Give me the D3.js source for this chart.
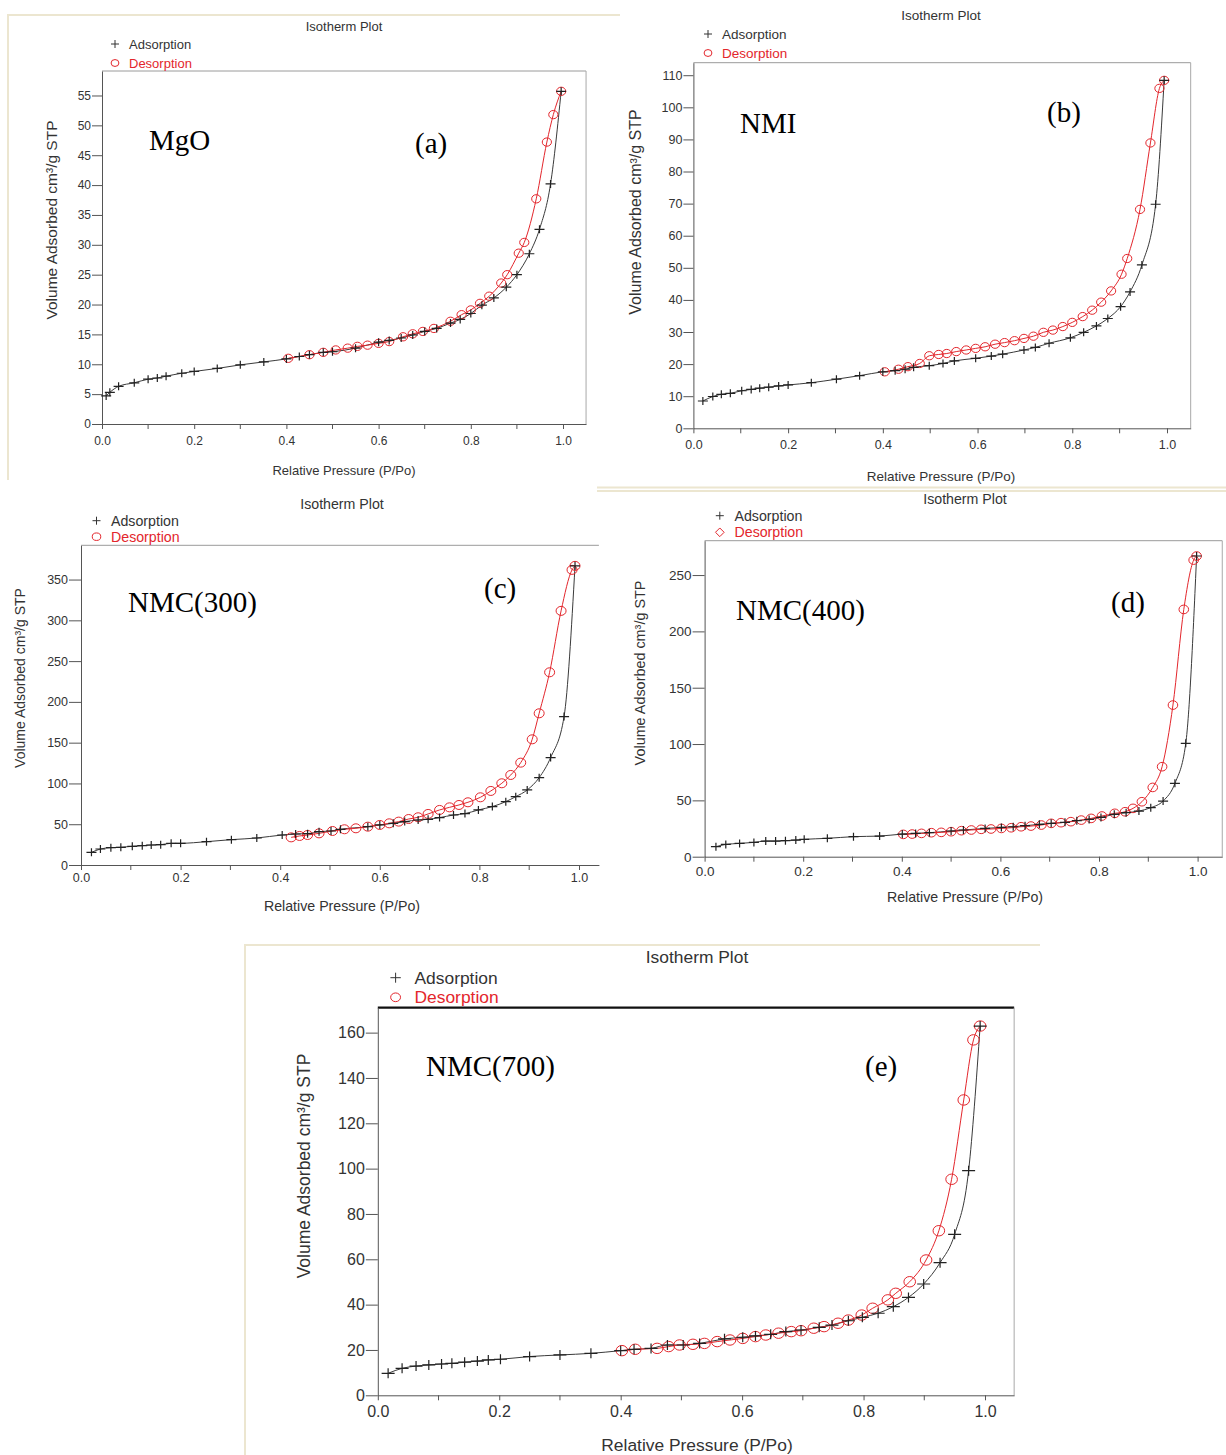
<!DOCTYPE html>
<html>
<head>
<meta charset="utf-8">
<script src="https://cdn.jsdelivr.net/npm/d3@7/dist/d3.min.js"></script>
<style>
  body { margin: 0; background: #fff; }
  svg { display: block; }
</style>
</head>
<body>
<svg id="fig" width="1226" height="1455"></svg>
<script>
// ---------- Nitrogen isotherm data: relative pressure P/Po and volume adsorbed (cm3/g STP) ----------

// (a) MgO
const mgoAdsP = [0.009,0.017,0.036,0.07,0.10,0.12,0.139,0.173,0.20,0.25,0.30,0.351,0.40,0.428,0.45,0.48,0.50,0.55,0.60,0.623,0.649,0.674,0.70,0.726,0.756,0.777,0.80,0.824,0.85,0.877,0.90,0.927,0.949,0.973,0.996];
const mgoAdsV = [4.7,5.3,6.3,6.9,7.5,7.7,8.0,8.5,8.8,9.3,9.9,10.4,10.9,11.3,11.6,12.0,12.1,12.7,13.7,14.0,14.4,14.9,15.5,16.0,16.9,17.5,18.5,19.9,21.1,22.9,25.0,28.5,32.6,40.2,55.7];
const mgoDesP = [0.996,0.979,0.965,0.942,0.916,0.904,0.879,0.866,0.840,0.82,0.80,0.78,0.756,0.72,0.696,0.674,0.653,0.623,0.60,0.576,0.554,0.533,0.507,0.48,0.45,0.404];
const mgoDesV = [55.7,51.8,47.2,37.7,30.4,28.6,25.0,23.6,21.4,20.2,19.1,18.3,17.2,16.0,15.5,15.1,14.6,13.8,13.5,13.2,13.0,12.7,12.4,12.0,11.6,11.0];

// (b) NMI
const nmiAdsP = [0.02,0.041,0.059,0.078,0.102,0.122,0.14,0.159,0.18,0.20,0.249,0.302,0.351,0.40,0.426,0.447,0.465,0.498,0.527,0.551,0.596,0.629,0.653,0.698,0.722,0.751,0.796,0.824,0.851,0.875,0.902,0.922,0.947,0.976,0.994];
const nmiAdsV = [8.5,9.9,10.6,10.9,11.7,12.1,12.5,12.8,13.2,13.5,14.2,15.3,16.4,17.6,17.95,18.4,19.0,19.5,20.2,21.0,21.8,22.5,23.1,24.4,25.2,26.5,28.2,29.9,31.9,34.2,37.9,42.5,50.9,69.8,108.4];
const nmiDesP = [0.994,0.984,0.965,0.943,0.916,0.904,0.882,0.861,0.842,0.822,0.80,0.78,0.759,0.739,0.718,0.698,0.678,0.657,0.637,0.616,0.596,0.576,0.555,0.535,0.518,0.498,0.478,0.453,0.433,0.404];
const nmiDesV = [108.4,105.9,88.9,68.2,52.9,48.0,42.8,39.3,36.8,34.8,33.0,31.7,30.6,29.9,28.7,28.0,27.3,26.7,26.2,25.4,24.9,24.4,23.9,23.3,23.0,22.6,20.2,19.2,18.4,17.6];

// (c) NMC(300)
const nmc300AdsP = [0.021,0.039,0.06,0.08,0.103,0.123,0.141,0.16,0.181,0.20,0.252,0.302,0.353,0.404,0.431,0.455,0.478,0.502,0.521,0.576,0.60,0.627,0.65,0.677,0.697,0.72,0.748,0.771,0.798,0.826,0.853,0.873,0.896,0.92,0.943,0.97,0.992];
const nmc300AdsV = [15.5,19.6,21.3,21.7,22.9,23.7,24.5,24.9,26.6,26.6,28.6,31.1,33.1,36.8,38.0,38.4,40.9,41.7,43.8,47.0,49.1,51.1,53.2,55.2,56.0,58.1,61.3,63.0,67.5,71.6,77.7,83.8,92.0,107.1,131.7,182,366.8];
const nmc300DesP = [0.992,0.986,0.964,0.941,0.92,0.906,0.883,0.863,0.845,0.823,0.802,0.777,0.759,0.74,0.72,0.697,0.677,0.658,0.638,0.619,0.60,0.576,0.552,0.529,0.505,0.478,0.455,0.439,0.422];
const nmc300DesV = [366.8,361.9,311.6,236.3,186,154.1,125.5,110.4,100.2,90.8,83.0,76.9,73.6,70.7,67.5,62.6,58.5,56.4,53.2,51.1,49.1,47.0,45.0,43.8,41.7,38.8,36.8,35.6,33.9];

// (d) NMC(400)
const nmc400AdsP = [0.023,0.043,0.071,0.10,0.124,0.144,0.164,0.185,0.202,0.249,0.302,0.355,0.401,0.428,0.456,0.50,0.525,0.569,0.602,0.626,0.65,0.679,0.703,0.731,0.755,0.78,0.804,0.831,0.855,0.881,0.905,0.93,0.954,0.976,0.998];
const nmc400AdsV = [8.9,10.9,11.8,12.7,13.9,13.9,14.2,14.8,15.4,16.3,17.8,18.3,20.1,20.7,21.3,22.8,23.7,25.1,26.0,26.6,27.5,28.7,29.6,30.5,32.0,33.1,34.9,37.6,39.1,40.5,43.5,49.4,65.1,100.6,266.9];
const nmc400DesP = [0.998,0.992,0.972,0.95,0.928,0.909,0.887,0.869,0.853,0.832,0.806,0.784,0.764,0.743,0.723,0.703,0.683,0.662,0.642,0.622,0.602,0.581,0.561,0.541,0.521,0.50,0.48,0.46,0.44,0.421,0.403];
const nmc400DesV = [266.9,263.3,219.5,134.6,79.9,61.5,48.8,42.9,39.9,38.5,36.1,34.0,32.5,31.1,30.2,29.6,28.1,27.2,26.6,25.7,25.1,24.6,24.3,23.7,23.1,22.2,21.6,21.3,20.7,20.1,19.8];

// (e) NMC(700)
const nmc700AdsP = [0.017,0.04,0.063,0.084,0.105,0.122,0.143,0.164,0.182,0.202,0.25,0.30,0.351,0.40,0.422,0.45,0.477,0.503,0.53,0.571,0.601,0.622,0.647,0.672,0.697,0.727,0.748,0.775,0.798,0.824,0.849,0.874,0.899,0.926,0.95,0.973,0.992];
const nmc700AdsV = [9.7,11.9,12.9,13.4,13.8,14.1,14.6,15.1,15.6,15.9,17.1,17.8,18.5,19.7,20.3,20.7,22.2,22.2,22.9,24.9,25.6,26.2,26.9,28.1,28.8,30.0,31.0,32.9,34.4,36.2,39.1,43.2,49.1,58.5,71.0,99.1,162.9];
const nmc700DesP = [0.992,0.981,0.965,0.945,0.924,0.903,0.876,0.853,0.84,0.815,0.797,0.775,0.758,0.735,0.718,0.697,0.681,0.66,0.639,0.622,0.601,0.58,0.559,0.538,0.519,0.497,0.479,0.46,0.424,0.402];
const nmc700DesV = [162.9,156.8,130.3,95.3,72.6,59.7,50.1,45.0,42.1,38.4,35.4,33.2,31.8,30.3,29.6,28.5,28.1,27.4,26.6,25.9,25.1,24.4,23.7,22.9,22.5,22.2,21.5,20.7,20.3,19.7];

// Axis tick values
const pressureTicks = [0, 0.2, 0.4, 0.6, 0.8, 1.0];
const pressureMinorTicks = [0.1, 0.3, 0.5, 0.7, 0.9];
const mgoTicks = [0, 5, 10, 15, 20, 25, 30, 35, 40, 45, 50, 55];
const nmiTicks = [0, 10, 20, 30, 40, 50, 60, 70, 80, 90, 100, 110];
const nmc300Ticks = [0, 50, 100, 150, 200, 250, 300, 350];
const nmc400Ticks = [0, 50, 100, 150, 200, 250];
const nmc700Ticks = [0, 20, 40, 60, 80, 100, 120, 140, 160];

const sampleNames = ["MgO", "NMI", "NMC(300)", "NMC(400)", "NMC(700)"];
const panelTags = ["(a)", "(b)", "(c)", "(d)", "(e)"];
const seriesNames = ["Adsorption", "Desorption"];

// ---------- Panel layout ----------
const RED = "#e3262c";
const INK = "#222";

const layout = [
  { left:102, top:71, bottom:424, px1:563, xMax:1.05, yMax:59.1, yTickLen:10, xPad:7,
    fTick:12, fText:13, fYTitle:15.5, titleX:344, titleY:30.5, xTitleY:475,
    legX:115, legY1:44, legY2:63, legTX:129, yTitleX:51, yTitleY:220,
    nameX:149, nameY:150, tagX:415, tagY:153, plus:[5,4], r:4.6, diamond:false,
    rightBorder:true, topWidth:1, topColor:"#9a9a9a" },
  { left:693.4, top:62.7, bottom:428.3, px1:1167, xMax:1.05, yMax:113.9, yTickLen:10, xPad:7,
    fTick:12.5, fText:13.5, fYTitle:16, titleX:941, titleY:19.5, xTitleY:481,
    legX:708, legY1:34, legY2:53, legTX:722, yTitleX:635, yTitleY:212,
    nameX:740, nameY:133, tagX:1047, tagY:122, plus:[5,4], r:4.6, diamond:false,
    rightBorder:true, topWidth:1, topColor:"#9a9a9a" },
  { left:81, top:545.3, bottom:865, px1:579, xMax:1.04, yMax:392, yTickLen:12, xPad:3,
    fTick:12.5, fText:14.2, fYTitle:14, titleX:342, titleY:509, xTitleY:911,
    legX:96.5, legY1:520.7, legY2:536.7, legTX:111, yTitleX:19.5, yTitleY:678,
    nameX:128, nameY:612, tagX:484, tagY:598, plus:[5,4], r:5, diamond:false,
    rightBorder:false, topWidth:1, topColor:"#9a9a9a" },
  { left:704.6, top:540.7, bottom:856.7, px1:1197.6, xMax:1.05, yMax:280.5, yTickLen:12, xPad:5,
    fTick:13.5, fText:14.2, fYTitle:14.4, titleX:965, titleY:504, xTitleY:902,
    legX:719.8, legY1:515.7, legY2:532.3, legTX:734.5, yTitleX:640, yTitleY:673,
    nameX:736, nameY:620, tagX:1111, tagY:612, plus:[5,4], r:4.8, diamond:true,
    rightBorder:true, topWidth:1, topColor:"#9a9a9a" },
  { left:377.8, top:1007.7, bottom:1395.3, px1:985, xMax:1.048, yMax:171, yTickLen:12, xPad:5,
    fTick:16, fText:17.4, fYTitle:17.5, titleX:697, titleY:963, xTitleY:1451,
    legX:395.6, legY1:977.7, legY2:997.3, legTX:414.5, yTitleX:304, yTitleY:1166,
    nameX:426, nameY:1076, tagX:865, tagY:1076, plus:[6.5,5], r:5.8, diamond:false,
    rightBorder:true, topWidth:2.2, topColor:"#111" }
];

const seriesData = [
  [mgoAdsP, mgoAdsV, mgoDesP, mgoDesV, mgoTicks],
  [nmiAdsP, nmiAdsV, nmiDesP, nmiDesV, nmiTicks],
  [nmc300AdsP, nmc300AdsV, nmc300DesP, nmc300DesV, nmc300Ticks],
  [nmc400AdsP, nmc400AdsV, nmc400DesP, nmc400DesV, nmc400Ticks],
  [nmc700AdsP, nmc700AdsV, nmc700DesP, nmc700DesV, nmc700Ticks]
];

const svg = d3.select("#fig");
const SANS = "'Liberation Sans', Arial, sans-serif";
const SERIF = "'Liberation Serif', 'Times New Roman', serif";

// Light beige frames around the pasted plots
const frame = svg.append("g").attr("fill", "none").attr("stroke", "#ece6d0").attr("stroke-width", 2);
frame.append("path").attr("d", "M8,480 V15 H620");
frame.append("path").attr("d", "M597,487.5 H1226");
frame.append("path").attr("d", "M597,491 H1226");
frame.append("path").attr("d", "M245,1455 V945 H1040");

function plusPath(h, v) {
  return `M${-h},0H${h}M0,${-v}V${v}`;
}

layout.forEach((L, i) => {
  const [adsP, adsV, desP, desV, yTicks] = seriesData[i];
  const right = L.left + (L.px1 - L.left) * L.xMax;
  const x = d3.scaleLinear().domain([0, L.xMax]).range([L.left, right]);
  const y = d3.scaleLinear().domain([0, L.yMax]).range([L.bottom, L.top]);
  const g = svg.append("g");

  // plot box: top and right edges
  g.append("line").attr("x1", L.left).attr("x2", right).attr("y1", L.top).attr("y2", L.top)
    .attr("stroke", L.topColor).attr("stroke-width", L.topWidth);
  if (L.rightBorder) {
    g.append("line").attr("x1", right).attr("x2", right).attr("y1", L.top).attr("y2", L.bottom)
      .attr("stroke", "#a8a8a8").attr("stroke-width", 1);
  }

  // x axis (labelled + minor ticks)
  const xAxis = g.append("g").attr("transform", `translate(0,${L.bottom})`)
    .call(d3.axisBottom(x).tickValues(pressureTicks).tickFormat(d3.format(".1f"))
      .tickSize(5).tickSizeOuter(0).tickPadding(L.xPad));
  xAxis.append("g").selectAll("line").data(pressureMinorTicks).join("line")
    .attr("x1", d => x(d)).attr("x2", d => x(d)).attr("y1", 0).attr("y2", 5);
  xAxis.selectAll("line").attr("stroke", "#555");
  xAxis.select(".domain").attr("stroke", "#555");
  xAxis.selectAll("text").attr("font-family", SANS).attr("font-size", L.fTick).attr("fill", "#333");

  // y axis
  const yAxis = g.append("g").attr("transform", `translate(${L.left},0)`)
    .call(d3.axisLeft(y).tickValues(yTicks).tickSize(L.yTickLen).tickSizeOuter(0).tickPadding(1));
  yAxis.selectAll("line").attr("stroke", "#555");
  yAxis.select(".domain").attr("stroke", "#555");
  yAxis.selectAll("text").attr("font-family", SANS).attr("font-size", L.fTick).attr("fill", "#333");

  // titles
  g.append("text").attr("x", L.titleX).attr("y", L.titleY).attr("text-anchor", "middle")
    .attr("font-family", SANS).attr("font-size", L.fText).attr("fill", "#333").text("Isotherm Plot");
  g.append("text").attr("x", L.titleX).attr("y", L.xTitleY).attr("text-anchor", "middle")
    .attr("font-family", SANS).attr("font-size", L.fText).attr("fill", "#333").text("Relative Pressure (P/Po)");
  g.append("text").attr("transform", `translate(${L.yTitleX},${L.yTitleY}) rotate(-90)`)
    .attr("text-anchor", "middle").attr("dominant-baseline", "central")
    .attr("font-family", SANS).attr("font-size", L.fYTitle).attr("fill", "#333")
    .text("Volume Adsorbed cm³/g STP");

  // legend
  g.append("path").attr("transform", `translate(${L.legX},${L.legY1})`)
    .attr("d", plusPath(L.plus[0] * 0.8, L.plus[1])).attr("stroke", "#333").attr("fill", "none");
  if (L.diamond) {
    const s = L.r * 0.9;
    g.append("path").attr("transform", `translate(${L.legX},${L.legY2})`)
      .attr("d", `M0,${-s}L${s},0L0,${s}L${-s},0Z`).attr("stroke", RED).attr("fill", "none");
  } else {
    g.append("ellipse").attr("cx", L.legX).attr("cy", L.legY2).attr("rx", L.r * 0.85).attr("ry", L.r * 0.75)
      .attr("stroke", RED).attr("fill", "none");
  }
  g.append("text").attr("x", L.legTX).attr("y", L.legY1).attr("dominant-baseline", "central")
    .attr("font-family", SANS).attr("font-size", L.fText).attr("fill", "#333").text(seriesNames[0]);
  g.append("text").attr("x", L.legTX).attr("y", L.legY2).attr("dominant-baseline", "central")
    .attr("font-family", SANS).attr("font-size", L.fText).attr("fill", RED).text(seriesNames[1]);

  // sample name and panel tag
  g.append("text").attr("x", L.nameX).attr("y", L.nameY)
    .attr("font-family", SERIF).attr("font-size", 29).attr("fill", "#000").text(sampleNames[i]);
  g.append("text").attr("x", L.tagX).attr("y", L.tagY)
    .attr("font-family", SERIF).attr("font-size", 29).attr("fill", "#000").text(panelTags[i]);

  // isotherm curves
  const ads = adsP.map((p, k) => ({ p, v: adsV[k] }));
  const des = desP.map((p, k) => ({ p, v: desV[k] })).sort((a, b) => a.p - b.p);
  const line = d3.line().x(d => x(d.p)).y(d => y(d.v)).curve(d3.curveMonotoneX);

  g.append("path").datum(ads).attr("d", line).attr("fill", "none")
    .attr("stroke", "#3a3a3a").attr("stroke-width", 1);
  g.append("path").datum(des).attr("d", line).attr("fill", "none")
    .attr("stroke", RED).attr("stroke-width", 1);

  g.append("g").selectAll("ellipse").data(des).join("ellipse")
    .attr("cx", d => x(d.p)).attr("cy", d => y(d.v))
    .attr("rx", L.r).attr("ry", L.r * 0.9)
    .attr("fill", "none").attr("stroke", RED).attr("stroke-width", 1);
  g.append("g").selectAll("path").data(ads).join("path")
    .attr("transform", d => `translate(${x(d.p)},${y(d.v)})`)
    .attr("d", plusPath(L.plus[0], L.plus[1]))
    .attr("fill", "none").attr("stroke", INK).attr("stroke-width", 1.2);
});
</script>
</body>
</html>
